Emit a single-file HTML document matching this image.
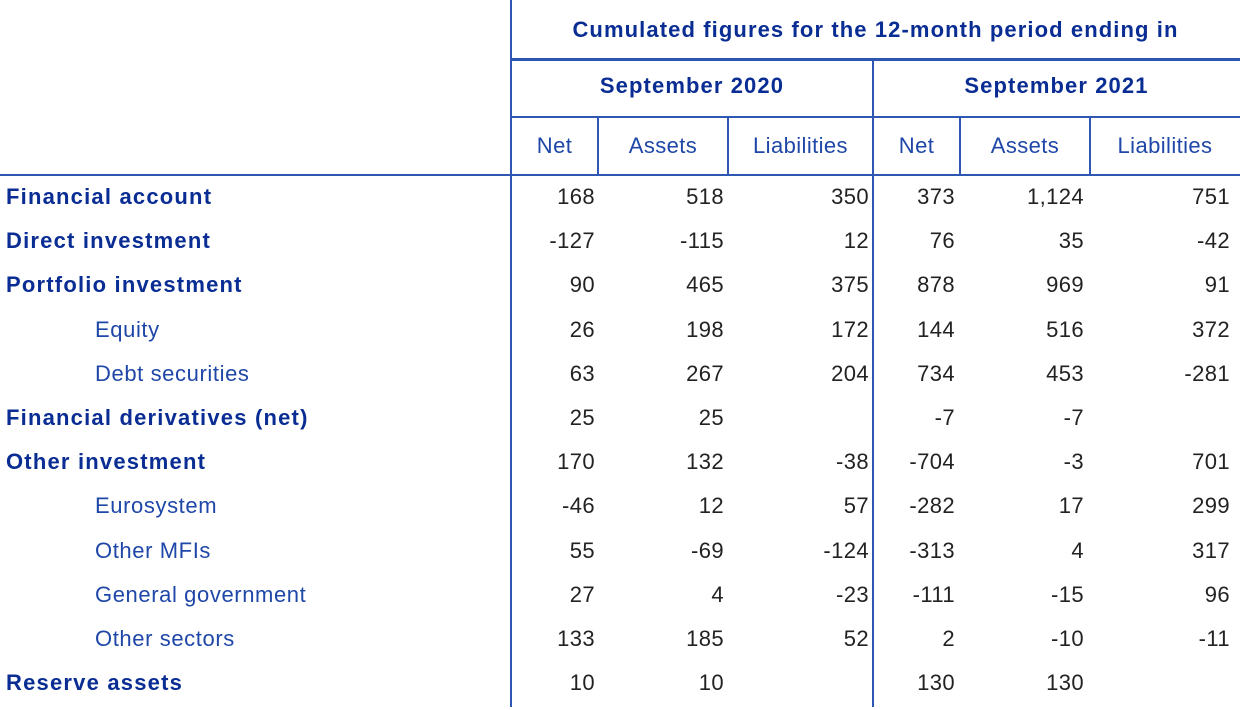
<!DOCTYPE html>
<html><head><style>
body{margin:0;width:1240px;height:710px;background:#fff;position:relative;overflow:hidden;font-family:"Liberation Sans",Arial,sans-serif;}
.l{position:absolute;background:#2d57b3;}
.t{position:absolute;white-space:nowrap;line-height:24px;font-size:22px;letter-spacing:0.4px;}
.h{color:#0a2d94;font-weight:bold;letter-spacing:1.1px;}
.c{color:#1f47a8;text-align:center;}
.lab{left:6px;color:#0a2d94;font-weight:bold;letter-spacing:1.2px;}
.sub{left:95px;color:#1f47a8;font-weight:normal;letter-spacing:0.6px;}
.n{color:#222;text-align:right;width:120px;}
</style></head><body>
<div class="l" style="left:510px;top:0;width:2px;height:707px"></div>
<div class="l" style="left:872px;top:60px;width:2px;height:647px"></div>
<div class="l" style="left:511px;top:58px;width:729px;height:3px"></div>
<div class="l" style="left:511px;top:116px;width:729px;height:2px"></div>
<div class="l" style="left:0;top:174px;width:1240px;height:2px"></div>
<div class="l" style="left:597px;top:117px;width:2px;height:58px"></div>
<div class="l" style="left:727px;top:117px;width:2px;height:58px"></div>
<div class="l" style="left:959px;top:117px;width:2px;height:58px"></div>
<div class="l" style="left:1089px;top:117px;width:2px;height:58px"></div>

<div class="t h" style="left:511px;width:729px;text-align:center;top:18px">Cumulated figures for the 12-month period ending in</div>
<div class="t h" style="left:511px;width:362px;text-align:center;top:74px">September 2020</div>
<div class="t h" style="left:873px;width:367px;text-align:center;top:74px">September 2021</div>
<div class="t c" style="left:511px;width:87px;top:134px">Net</div>
<div class="t c" style="left:598px;width:130px;top:134px">Assets</div>
<div class="t c" style="left:728px;width:145px;top:134px">Liabilities</div>
<div class="t c" style="left:873px;width:87px;top:134px">Net</div>
<div class="t c" style="left:960px;width:130px;top:134px">Assets</div>
<div class="t c" style="left:1090px;width:150px;top:134px">Liabilities</div>

<div id="rows"></div>
<script>
var rows=[
["Financial account",0,"168","518","350","373","1,124","751"],
["Direct investment",0,"-127","-115","12","76","35","-42"],
["Portfolio investment",0,"90","465","375","878","969","91"],
["Equity",1,"26","198","172","144","516","372"],
["Debt securities",1,"63","267","204","734","453","-281"],
["Financial derivatives (net)",0,"25","25","","-7","-7",""],
["Other investment",0,"170","132","-38","-704","-3","701"],
["Eurosystem",1,"-46","12","57","-282","17","299"],
["Other MFIs",1,"55","-69","-124","-313","4","317"],
["General government",1,"27","4","-23","-111","-15","96"],
["Other sectors",1,"133","185","52","2","-10","-11"],
["Reserve assets",0,"10","10","","130","130",""]];
var right=[595,724,869,955,1084,1230],h="";
rows.forEach(function(r,i){var y=185+i*44.2;
h+='<div class="t lab'+(r[1]?' sub':'')+'" style="top:'+y+'px">'+r[0]+'</div>';
for(var j=0;j<6;j++)h+='<div class="t n" style="left:'+(right[j]-120)+'px;top:'+y+'px">'+r[j+2]+'</div>';});
document.getElementById("rows").innerHTML=h;
</script>
</body></html>
